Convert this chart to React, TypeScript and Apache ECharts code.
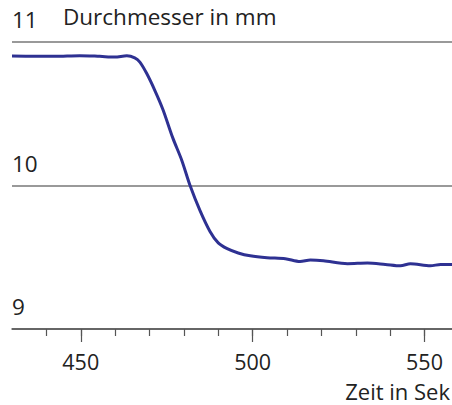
import React, { useEffect, useRef } from "react";
import * as echarts from "echarts";

const timeSec: number[] = [430, 436.6, 442.4, 449.7, 455.5, 459.9, 463.4, 465.7, 467.2, 469.2, 471.6, 473.9, 476.8, 479.4, 481.8, 484.7, 487.6, 490, 492.6, 495.8, 499.3, 504.2, 509.5, 513.8, 516.8, 520.6, 527.6, 533.4, 538.6, 543, 545.9, 551.7, 554.7, 558.2];
const diameterMm: number[] = [10.902, 10.9, 10.9, 10.905, 10.9, 10.895, 10.904, 10.89, 10.86, 10.78, 10.66, 10.53, 10.33, 10.175, 10.0, 9.825, 9.68, 9.6, 9.56, 9.53, 9.51, 9.497, 9.49, 9.47, 9.48, 9.475, 9.455, 9.46, 9.45, 9.44, 9.455, 9.44, 9.45, 9.45];
const majorTicks: number[] = [450, 500, 550];
const minorTicks: number[] = [440, 450, 460, 470, 480, 490, 500, 510, 520, 530, 540, 550];
const yTitle = "Durchmesser in mm";
const xTitle = "Zeit in Sek";

const FONT = "'Open Sans', 'Noto Sans', sans-serif";

export default function App() {
  const ref = useRef<HTMLDivElement>(null);
  useEffect(() => {
    if (!ref.current) return;
    const chart = echarts.init(ref.current, undefined, { renderer: "svg" });
    const data = timeSec.map((t, i) => [t, diameterMm[i]]);
    chart.setOption({
      animation: false,
      backgroundColor: "#fff",
      grid: { left: 12, right: 0, top: 42, bottom: 76 },
      xAxis: [
        {
          type: "value",
          min: 430,
          max: 558,
          position: "bottom",
          axisLine: { show: true, lineStyle: { color: "#555", width: 1.5 } },
          axisTick: { show: true, customValues: minorTicks, length: 7, lineStyle: { color: "#555", width: 1.2 } },
          axisLabel: { customValues: majorTicks, margin: 21, fontSize: 21.5, color: "#222", fontFamily: FONT },
          splitLine: { show: false },
        },
        {
          type: "value",
          min: 430,
          max: 558,
          position: "bottom",
          axisLine: { show: false },
          axisTick: { show: true, customValues: majorTicks, length: 13, lineStyle: { color: "#555", width: 1.2 } },
          axisLabel: { show: false },
          splitLine: { show: false },
        },
      ],
      yAxis: {
        type: "value",
        min: 9,
        max: 11,
        interval: 1,
        axisLine: { show: false },
        axisTick: { show: false },
        axisLabel: {
          inside: true,
          margin: 0,
          align: "left",
          verticalAlign: "bottom",
          padding: [0, 0, 11, 0],
          fontSize: 22.5,
          color: "#222",
          fontFamily: FONT,
        },
        splitLine: { show: true, lineStyle: { color: "#777", width: 1.5 } },
      },
      graphic: [
        {
          type: "text",
          left: 63,
          top: 5,
          style: { text: yTitle, fontSize: 22.5, fill: "#222", fontFamily: FONT },
        },
        {
          type: "text",
          right: 2,
          top: 380,
          style: { text: xTitle, fontSize: 22, fill: "#222", fontFamily: FONT, lineHeight: 21 },
        },
      ],
      series: [
        {
          type: "line",
          data,
          showSymbol: false,
          smooth: 0.3,
          lineStyle: { color: "#2e3192", width: 3 },
        },
      ],
    });
    return () => chart.dispose();
  }, []);
  return <div ref={ref} style={{ position: "absolute", left: 0, top: 0, width: 452, height: 405 }} />;
}
